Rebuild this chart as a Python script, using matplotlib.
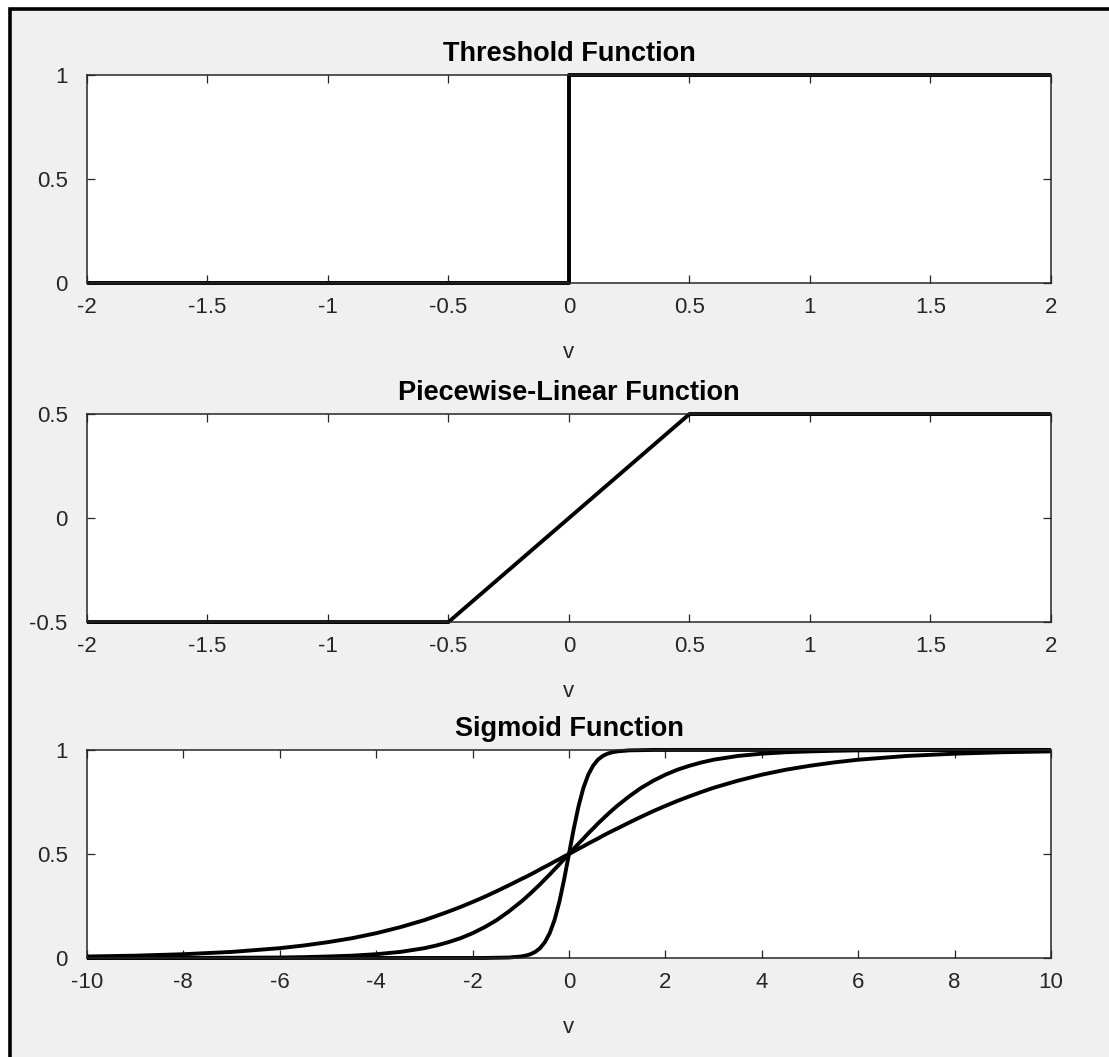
import matplotlib
matplotlib.use("Agg")
import matplotlib.pyplot as plt
from matplotlib.patches import Rectangle
from matplotlib.ticker import FormatStrFormatter

plt.rcParams["font.family"] = ["Liberation Sans", "DejaVu Sans"]
plt.rcParams["axes.unicode_minus"] = False

C_TXT = "#262626"
C_BG = "#f0f0f0"

# ── data ─────────────────────────────────────────────
THR_V = [-2, 0, 0, 2]
THR_Y = [0, 0, 1, 1]

PWL_V = [-2, -0.5, 0.5, 2]
PWL_Y = [-0.5, -0.5, 0.5, 0.5]

SIG_V = [-10, -9, -8, -7, -6, -5.5, -5, -4.5, -4, -3.5, -3, -2.75, -2.5, -2.25, -2,
         -1.75, -1.5, -1.25, -1, -0.9, -0.8, -0.7, -0.6, -0.5, -0.4, -0.3, -0.2, -0.1,
         0,
         0.1, 0.2, 0.3, 0.4, 0.5, 0.6, 0.7, 0.8, 0.9, 1, 1.25, 1.5, 1.75, 2, 2.25,
         2.5, 2.75, 3, 3.5, 4, 4.5, 5, 5.5, 6, 7, 8, 9, 10]
SIG_SHALLOW = [0.007, 0.011, 0.018, 0.029, 0.047, 0.060, 0.076, 0.095, 0.119, 0.148,
               0.182, 0.202, 0.223, 0.245, 0.269, 0.294, 0.321, 0.349, 0.378, 0.389,
               0.401, 0.413, 0.426, 0.438, 0.450, 0.463, 0.475, 0.488,
               0.5,
               0.512, 0.525, 0.537, 0.550, 0.562, 0.574, 0.587, 0.599, 0.611, 0.622,
               0.651, 0.679, 0.706, 0.731, 0.755, 0.777, 0.798, 0.818, 0.852, 0.881,
               0.905, 0.924, 0.940, 0.953, 0.971, 0.982, 0.989, 0.993]
SIG_MID = [0.000, 0.000, 0.000, 0.001, 0.002, 0.004, 0.007, 0.011, 0.018, 0.029,
           0.047, 0.060, 0.076, 0.095, 0.119, 0.148, 0.182, 0.223, 0.269, 0.289,
           0.310, 0.332, 0.354, 0.378, 0.401, 0.426, 0.450, 0.475,
           0.5,
           0.525, 0.550, 0.574, 0.599, 0.622, 0.646, 0.668, 0.690, 0.711, 0.731,
           0.777, 0.818, 0.852, 0.881, 0.905, 0.924, 0.940, 0.953, 0.971, 0.982,
           0.989, 0.993, 0.996, 0.998, 0.999, 1.000, 1.000, 1.000]
SIG_STEEP = [0.000, 0.000, 0.000, 0.000, 0.000, 0.000, 0.000, 0.000, 0.000, 0.000,
             0.000, 0.000, 0.000, 0.000, 0.000, 0.000, 0.001, 0.002, 0.007, 0.011,
             0.018, 0.029, 0.047, 0.076, 0.119, 0.182, 0.269, 0.378,
             0.5,
             0.622, 0.731, 0.818, 0.881, 0.924, 0.953, 0.971, 0.982, 0.989, 0.993,
             0.998, 0.999, 1.000, 1.000, 1.000, 1.000, 1.000, 1.000, 1.000, 1.000,
             1.000, 1.000, 1.000, 1.000, 1.000, 1.000, 1.000, 1.000]

X_TICKS_SMALL = [-2, -1.5, -1, -0.5, 0, 0.5, 1, 1.5, 2]
X_TICKS_BIG = [-10, -8, -6, -4, -2, 0, 2, 4, 6, 8, 10]


def _style(ax, title, xlim, ylim, xticks, yticks):
    ax.set_xlim(*xlim)
    ax.set_ylim(*ylim)
    ax.set_xticks(xticks)
    ax.set_yticks(yticks)
    ax.xaxis.set_major_formatter(FormatStrFormatter("%g"))
    ax.yaxis.set_major_formatter(FormatStrFormatter("%g"))
    ax.tick_params(direction="in", length=6, width=0.9, top=True, right=True,
                   labelsize=16, colors=C_TXT)
    ax.tick_params(axis="x", pad=10)
    ax.tick_params(axis="y", pad=14)
    for s in ax.spines.values():
        s.set_color(C_TXT)
        s.set_linewidth(1.1)
    ax.set_title(title, fontsize=19.5, weight="bold", color="black", pad=10)
    ax.set_xlabel("v", fontsize=16, color=C_TXT, labelpad=17.5)
    ax.set_facecolor("white")


fig = plt.figure(figsize=(11.09, 10.57), dpi=100, facecolor="white")
fig.patches.append(Rectangle((10 / 1109, -0.1), 1.2, 1.1 - 8.5 / 1057,
                             transform=fig.transFigure, facecolor=C_BG,
                             edgecolor="black", lw=2.6, zorder=-1))

L, W, H = 0.0784, 0.8693, 0.1968
ax1 = fig.add_axes([L, 0.7323, W, H])
ax2 = fig.add_axes([L, 0.4115, W, H])
ax3 = fig.add_axes([L, 0.0937, W, H])

LW = 2.8
ax1.plot(THR_V, THR_Y, color="black", lw=LW, clip_on=False, solid_capstyle="butt")
_style(ax1, "Threshold Function", (-2, 2), (0, 1), X_TICKS_SMALL, [0, 0.5, 1])

ax2.plot(PWL_V, PWL_Y, color="black", lw=LW, clip_on=False, solid_capstyle="butt")
_style(ax2, "Piecewise-Linear Function", (-2, 2), (-0.5, 0.5), X_TICKS_SMALL, [-0.5, 0, 0.5])

for ys in (SIG_SHALLOW, SIG_MID, SIG_STEEP):
    ax3.plot(SIG_V, ys, color="black", lw=LW, clip_on=False, solid_capstyle="butt")
_style(ax3, "Sigmoid Function", (-10, 10), (0, 1), X_TICKS_BIG, [0, 0.5, 1])

fig.savefig("out.png", dpi=100, facecolor="white")
